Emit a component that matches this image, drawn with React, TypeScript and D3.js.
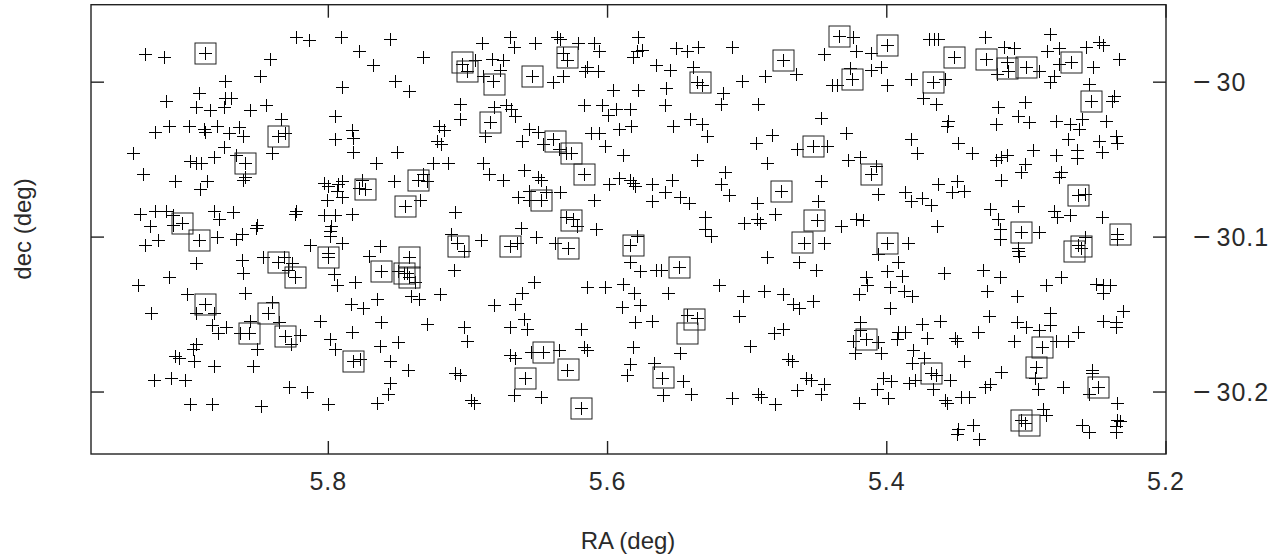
import React from "react";
import * as d3 from "d3";

// RA / dec of all detected sources (plus markers)
const sourcesWest: [number, number][] = [
[5.823,-29.971],[5.814,-29.973],[5.791,-29.971],[5.756,-29.972],[5.931,-29.982],[5.918,-29.984],[5.888,-29.981],[5.842,-29.985],[5.778,-29.980],[5.732,-29.984],[5.768,-29.989],[5.849,-29.996],[5.874,-29.999],[5.790,-30.003],[5.752,-29.999],[5.742,-30.006],[5.893,-30.007],[5.916,-30.012],[5.874,-30.010],[5.870,-30.010],[5.895,-30.016],[5.885,-30.018],[5.875,-30.016],[5.856,-30.018],[5.845,-30.015],[5.834,-30.024],[5.836,-30.035],[5.831,-30.033],[5.795,-30.022],[5.783,-30.031],[5.782,-30.036],[5.795,-30.037],[5.782,-30.045],[5.924,-30.032],[5.914,-30.028],[5.900,-30.028],[5.889,-30.030],[5.888,-30.032],[5.880,-30.028],[5.871,-30.033],[5.864,-30.029],[5.861,-30.035],[5.940,-30.046],[5.875,-30.042],[5.882,-30.048],[5.866,-30.047],[5.899,-30.051],[5.895,-30.052],[5.891,-30.052],[5.860,-30.052],[5.860,-30.061],[5.861,-30.063],[5.840,-30.046],[5.751,-30.045],[5.766,-30.052],[5.721,-30.028],[5.717,-30.031],[5.722,-30.038],[5.719,-30.040],[5.725,-30.052],[5.714,-30.052],[5.933,-30.059],[5.910,-30.064],[5.892,-30.069],[5.887,-30.064],[5.803,-30.065],[5.800,-30.067],[5.793,-30.066],[5.790,-30.064],[5.794,-30.070],[5.776,-30.063],[5.774,-30.069],[5.778,-30.068],[5.753,-30.064],[5.736,-30.063],[5.732,-30.059],[5.729,-30.064],[5.801,-30.076],[5.790,-30.074],[5.745,-30.080],[5.734,-30.076],[5.935,-30.085],[5.924,-30.083],[5.916,-30.083],[5.911,-30.086],[5.905,-30.091],[5.928,-30.093],[5.911,-30.092],[5.882,-30.083],[5.878,-30.088],[5.868,-30.084],[5.823,-30.083],[5.824,-30.085],[5.803,-30.086],[5.795,-30.086],[5.783,-30.085],[5.798,-30.093],[5.799,-30.096],[5.851,-30.092],[5.852,-30.094],[5.862,-30.098],[5.866,-30.101],[5.931,-30.105],[5.922,-30.102],[5.893,-30.102],[5.880,-30.100],[5.813,-30.105],[5.799,-30.099],[5.790,-30.104],[5.763,-30.106],[5.895,-30.117],[5.862,-30.115],[5.861,-30.123],[5.847,-30.113],[5.836,-30.116],[5.832,-30.113],[5.826,-30.117],[5.829,-30.121],[5.824,-30.126],[5.800,-30.113],[5.800,-30.110],[5.771,-30.112],[5.762,-30.122],[5.746,-30.123],[5.742,-30.113],[5.742,-30.126],[5.750,-30.122],[5.744,-30.123],[5.738,-30.129],[5.796,-30.124],[5.794,-30.131],[5.781,-30.129],[5.914,-30.126],[5.936,-30.131],[5.860,-30.136],[5.901,-30.137],[5.888,-30.143],[5.895,-30.149],[5.882,-30.149],[5.927,-30.149],[5.741,-30.138],[5.735,-30.140],[5.720,-30.137],[5.765,-30.140],[5.784,-30.143],[5.775,-30.146],[5.843,-30.149],[5.840,-30.142],[5.806,-30.154],[5.762,-30.155],[5.729,-30.156],[5.783,-30.161],[5.883,-30.157],[5.873,-30.158],[5.879,-30.162],[5.857,-30.162],[5.863,-30.162],[5.856,-30.154],[5.831,-30.164],[5.835,-30.155],[5.820,-30.163],[5.827,-30.169],[5.895,-30.169],[5.897,-30.172],[5.851,-30.172],[5.799,-30.166],[5.795,-30.172],[5.782,-30.180],[5.777,-30.179],[5.763,-30.170],[5.750,-30.168],[5.756,-30.180],[5.743,-30.186],[5.910,-30.177],[5.907,-30.178],[5.896,-30.180],[5.882,-30.183],[5.854,-30.183],[5.925,-30.192],[5.913,-30.191],[5.903,-30.192],[5.828,-30.197],[5.815,-30.200],[5.756,-30.194],[5.757,-30.201],[5.899,-30.208],[5.883,-30.208],[5.848,-30.209],[5.800,-30.208],[5.765,-30.207]
];

const sourcesMiddle: [number, number][] = [
[5.690,-29.975],[5.670,-29.971],[5.667,-29.977],[5.652,-29.975],[5.636,-29.971],[5.634,-29.972],[5.621,-29.975],[5.610,-29.975],[5.606,-29.980],[5.704,-29.988],[5.701,-29.993],[5.695,-29.986],[5.632,-29.981],[5.629,-29.986],[5.683,-29.985],[5.675,-29.986],[5.677,-29.992],[5.689,-29.996],[5.682,-29.999],[5.654,-29.996],[5.639,-30.000],[5.632,-29.996],[5.615,-29.990],[5.616,-29.993],[5.607,-29.993],[5.578,-29.971],[5.579,-29.980],[5.582,-29.984],[5.575,-29.979],[5.551,-29.978],[5.543,-29.980],[5.535,-29.977],[5.511,-29.977],[5.474,-29.986],[5.565,-29.989],[5.555,-29.992],[5.539,-29.990],[5.536,-30.000],[5.532,-30.002],[5.504,-29.999],[5.487,-29.996],[5.465,-29.995],[5.596,-30.005],[5.578,-30.005],[5.558,-30.004],[5.517,-30.007],[5.519,-30.014],[5.492,-30.014],[5.706,-30.014],[5.706,-30.024],[5.684,-30.026],[5.681,-30.016],[5.673,-30.015],[5.669,-30.017],[5.666,-30.022],[5.617,-30.015],[5.604,-30.015],[5.600,-30.021],[5.594,-30.017],[5.584,-30.017],[5.592,-30.030],[5.583,-30.028],[5.559,-30.015],[5.553,-30.028],[5.541,-30.024],[5.532,-30.027],[5.529,-30.035],[5.688,-30.035],[5.656,-30.030],[5.650,-30.032],[5.661,-30.038],[5.639,-30.037],[5.646,-30.040],[5.635,-30.043],[5.630,-30.046],[5.626,-30.046],[5.617,-30.059],[5.612,-30.033],[5.606,-30.033],[5.602,-30.041],[5.589,-30.047],[5.494,-30.039],[5.482,-30.034],[5.464,-30.043],[5.536,-30.050],[5.486,-30.052],[5.689,-30.052],[5.685,-30.059],[5.675,-30.063],[5.660,-30.057],[5.650,-30.061],[5.648,-30.063],[5.599,-30.066],[5.592,-30.062],[5.584,-30.063],[5.582,-30.065],[5.580,-30.067],[5.568,-30.066],[5.554,-30.063],[5.559,-30.071],[5.568,-30.077],[5.548,-30.074],[5.542,-30.078],[5.516,-30.058],[5.519,-30.066],[5.513,-30.073],[5.476,-30.070],[5.610,-30.076],[5.664,-30.074],[5.656,-30.076],[5.648,-30.076],[5.644,-30.071],[5.634,-30.071],[5.656,-30.070],[5.709,-30.084],[5.630,-30.087],[5.625,-30.088],[5.622,-30.093],[5.662,-30.094],[5.608,-30.095],[5.493,-30.078],[5.493,-30.088],[5.491,-30.091],[5.480,-30.085],[5.502,-30.091],[5.530,-30.087],[5.530,-30.095],[5.526,-30.099],[5.691,-30.102],[5.670,-30.106],[5.665,-30.104],[5.651,-30.100],[5.638,-30.104],[5.628,-30.107],[5.712,-30.098],[5.708,-30.104],[5.703,-30.109],[5.584,-30.105],[5.579,-30.099],[5.584,-30.116],[5.577,-30.122],[5.565,-30.121],[5.562,-30.121],[5.549,-30.119],[5.486,-30.113],[5.463,-30.116],[5.459,-30.104],[5.710,-30.121],[5.653,-30.129],[5.661,-30.136],[5.666,-30.143],[5.681,-30.144],[5.615,-30.132],[5.602,-30.132],[5.589,-30.130],[5.581,-30.136],[5.557,-30.136],[5.590,-30.145],[5.577,-30.144],[5.580,-30.155],[5.568,-30.154],[5.520,-30.131],[5.503,-30.138],[5.488,-30.135],[5.474,-30.137],[5.467,-30.143],[5.463,-30.146],[5.506,-30.151],[5.543,-30.150],[5.536,-30.152],[5.548,-30.175],[5.703,-30.158],[5.701,-30.167],[5.670,-30.158],[5.660,-30.153],[5.658,-30.159],[5.619,-30.159],[5.617,-30.171],[5.615,-30.173],[5.582,-30.171],[5.584,-30.182],[5.586,-30.189],[5.567,-30.181],[5.561,-30.191],[5.546,-30.193],[5.540,-30.201],[5.560,-30.202],[5.646,-30.174],[5.670,-30.176],[5.666,-30.178],[5.655,-30.174],[5.635,-30.173],[5.659,-30.191],[5.629,-30.186],[5.709,-30.188],[5.706,-30.189],[5.698,-30.205],[5.696,-30.207],[5.667,-30.202],[5.648,-30.203],[5.619,-30.210],[5.498,-30.170],[5.481,-30.162],[5.474,-30.159],[5.471,-30.179],[5.468,-30.180],[5.458,-30.191],[5.464,-30.199],[5.492,-30.201],[5.490,-30.203],[5.480,-30.208],[5.511,-30.204]
];

const sourcesEast: [number, number][] = [
[5.434,-29.970],[5.424,-29.971],[5.400,-29.976],[5.445,-29.982],[5.422,-29.980],[5.411,-29.981],[5.425,-29.998],[5.426,-29.991],[5.439,-30.002],[5.436,-30.002],[5.411,-29.992],[5.404,-29.990],[5.400,-30.002],[5.383,-29.998],[5.370,-29.972],[5.366,-29.972],[5.363,-29.972],[5.352,-29.984],[5.367,-30.000],[5.358,-29.998],[5.374,-30.010],[5.365,-30.014],[5.330,-29.971],[5.329,-29.985],[5.316,-29.977],[5.309,-29.978],[5.314,-29.987],[5.313,-29.993],[5.300,-29.990],[5.321,-29.995],[5.291,-29.993],[5.283,-29.969],[5.285,-29.980],[5.277,-29.978],[5.268,-29.987],[5.277,-29.988],[5.280,-29.996],[5.283,-30.000],[5.257,-29.977],[5.248,-29.974],[5.245,-29.976],[5.252,-29.990],[5.234,-29.985],[5.255,-30.001],[5.254,-30.012],[5.237,-30.009],[5.239,-30.012],[5.320,-30.016],[5.301,-30.013],[5.322,-30.027],[5.306,-30.022],[5.298,-30.026],[5.279,-30.025],[5.269,-30.027],[5.260,-30.024],[5.262,-30.030],[5.243,-30.025],[5.447,-30.023],[5.429,-30.033],[5.453,-30.041],[5.443,-30.041],[5.383,-30.037],[5.378,-30.046],[5.356,-30.025],[5.357,-30.028],[5.349,-30.039],[5.339,-30.046],[5.322,-30.050],[5.318,-30.048],[5.314,-30.047],[5.295,-30.044],[5.301,-30.053],[5.304,-30.058],[5.279,-30.047],[5.264,-30.044],[5.264,-30.049],[5.270,-30.037],[5.248,-30.038],[5.236,-30.035],[5.235,-30.039],[5.246,-30.045],[5.275,-30.058],[5.277,-30.061],[5.428,-30.050],[5.419,-30.048],[5.411,-30.059],[5.408,-30.054],[5.447,-30.064],[5.318,-30.063],[5.406,-30.072],[5.387,-30.071],[5.383,-30.077],[5.375,-30.075],[5.368,-30.079],[5.363,-30.066],[5.353,-30.071],[5.350,-30.064],[5.345,-30.070],[5.263,-30.073],[5.258,-30.072],[5.449,-30.077],[5.450,-30.089],[5.433,-30.093],[5.422,-30.088],[5.417,-30.089],[5.326,-30.082],[5.306,-30.080],[5.320,-30.088],[5.319,-30.095],[5.319,-30.101],[5.304,-30.097],[5.291,-30.097],[5.306,-30.107],[5.306,-30.109],[5.305,-30.112],[5.280,-30.083],[5.278,-30.087],[5.269,-30.086],[5.246,-30.087],[5.235,-30.101],[5.235,-30.098],[5.263,-30.105],[5.261,-30.107],[5.258,-30.100],[5.364,-30.093],[5.400,-30.104],[5.385,-30.104],[5.406,-30.111],[5.392,-30.116],[5.445,-30.104],[5.451,-30.121],[5.453,-30.141],[5.400,-30.122],[5.415,-30.126],[5.414,-30.131],[5.389,-30.125],[5.398,-30.132],[5.388,-30.135],[5.382,-30.138],[5.398,-30.146],[5.420,-30.137],[5.359,-30.123],[5.331,-30.121],[5.319,-30.126],[5.328,-30.135],[5.307,-30.138],[5.286,-30.131],[5.275,-30.126],[5.250,-30.130],[5.245,-30.131],[5.240,-30.131],[5.245,-30.136],[5.327,-30.151],[5.335,-30.161],[5.307,-30.155],[5.300,-30.158],[5.291,-30.160],[5.283,-30.149],[5.283,-30.157],[5.309,-30.167],[5.279,-30.167],[5.270,-30.167],[5.263,-30.161],[5.289,-30.171],[5.293,-30.184],[5.245,-30.154],[5.236,-30.155],[5.236,-30.158],[5.231,-30.148],[5.419,-30.155],[5.419,-30.160],[5.415,-30.166],[5.424,-30.167],[5.423,-30.175],[5.406,-30.168],[5.404,-30.175],[5.392,-30.161],[5.387,-30.161],[5.393,-30.166],[5.375,-30.156],[5.362,-30.154],[5.371,-30.165],[5.351,-30.165],[5.350,-30.167],[5.381,-30.173],[5.373,-30.178],[5.382,-30.181],[5.368,-30.188],[5.365,-30.189],[5.380,-30.192],[5.384,-30.194],[5.355,-30.192],[5.367,-30.198],[5.345,-30.180],[5.318,-30.187],[5.326,-30.195],[5.330,-30.197],[5.294,-30.191],[5.292,-30.198],[5.274,-30.197],[5.249,-30.197],[5.253,-30.186],[5.253,-30.188],[5.255,-30.201],[5.403,-30.191],[5.397,-30.193],[5.407,-30.198],[5.399,-30.204],[5.420,-30.207],[5.454,-30.192],[5.445,-30.195],[5.447,-30.201],[5.358,-30.205],[5.357,-30.207],[5.347,-30.203],[5.341,-30.203],[5.235,-30.207],[5.235,-30.218],[5.233,-30.219],[5.236,-30.222],[5.236,-30.226],[5.304,-30.218],[5.301,-30.220],[5.288,-30.211],[5.286,-30.215],[5.349,-30.224],[5.350,-30.227],[5.338,-30.221],[5.334,-30.230],[5.260,-30.221],[5.255,-30.226]
];

// Sources that are marked with a box
const boxed: [number, number][] = [
[5.888,-29.981],[5.836,-30.035],[5.860,-30.052],[5.774,-30.069],[5.736,-30.063],[5.745,-30.080],[5.905,-30.091],[5.893,-30.102],[5.836,-30.116],[5.824,-30.126],[5.800,-30.113],[5.762,-30.122],[5.746,-30.123],[5.742,-30.113],[5.742,-30.126],[5.888,-30.143],[5.843,-30.149],[5.857,-30.162],[5.831,-30.164],[5.782,-30.180],
[5.704,-29.987],[5.701,-29.993],[5.629,-29.984],[5.681,-30.001],[5.654,-29.996],[5.474,-29.986],[5.534,-30.000],[5.684,-30.026],[5.638,-30.038],[5.626,-30.046],[5.617,-30.059],[5.476,-30.070],[5.648,-30.076],[5.626,-30.089],[5.670,-30.106],[5.628,-30.107],[5.707,-30.106],[5.582,-30.105],[5.549,-30.119],[5.461,-30.103],[5.538,-30.153],[5.543,-30.162],[5.560,-30.190],[5.646,-30.174],[5.659,-30.191],[5.628,-30.185],[5.619,-30.210],
[5.434,-29.970],[5.400,-29.976],[5.425,-29.998],[5.352,-29.984],[5.367,-30.000],[5.329,-29.985],[5.314,-29.991],[5.300,-29.990],[5.268,-29.987],[5.254,-30.012],[5.453,-30.041],[5.411,-30.059],[5.263,-30.073],[5.452,-30.089],[5.304,-30.097],[5.233,-30.098],[5.261,-30.106],[5.266,-30.109],[5.400,-30.104],[5.289,-30.171],[5.293,-30.184],[5.415,-30.166],[5.368,-30.188],[5.249,-30.197],[5.304,-30.218],[5.298,-30.221]
];

const raTicks = [5.8, 5.6, 5.4, 5.2];
const raTickLabels = ["5.8", "5.6", "5.4", "5.2"];
const decTicks = [-30, -30.1, -30.2];
const decTickLabels = ["30", "30.1", "30.2"];
const minusSign = "\u2212";
const xTitle = "RA (deg)";
const yTitle = "dec (deg)";

export default function App() {
  const W = 1287, H = 557;
  const x = d3.scaleLinear().domain([5.97, 5.2]).range([91, 1166]);
  const y = d3.scaleLinear().domain([-29.95, -30.24]).range([4.7, 454]);
  const [x0, x1] = x.range();
  const [y0, y1] = y.range();
  const tl = 13;
  const arm = 6.5;
  const half = 10.5;
  const all = [...sourcesWest, ...sourcesMiddle, ...sourcesEast];
  const plusPath = all
    .map(([ra, de]) => {
      const px = Math.round(x(ra)) + 0.5;
      const py = Math.round(y(de)) + 0.5;
      return `M${px - arm},${py}H${px + arm}M${px},${py - arm}V${py + arm}`;
    })
    .join("");
  const font = "'Liberation Sans', Arial, Helvetica, sans-serif";
  const txt = "#2a2a2a";
  return (
    <svg
      width={W}
      height={H}
      style={{ position: "absolute", left: 0, top: 0, background: "#fff" }}
    >
      <rect x={x0} y={y0} width={x1 - x0} height={y1 - y0} fill="none" stroke="#222" strokeWidth={1.4} />
      {raTicks.map((t) => (
        <g key={"xt" + t} stroke="#222" strokeWidth={1.4}>
          <line x1={x(t)} x2={x(t)} y1={y1} y2={y1 - tl} />
          <line x1={x(t)} x2={x(t)} y1={y0} y2={y0 + tl} />
        </g>
      ))}
      {decTicks.map((t) => (
        <g key={"yt" + t} stroke="#222" strokeWidth={1.4}>
          <line x1={x0} x2={x0 + tl} y1={y(t)} y2={y(t)} />
          <line x1={x1} x2={x1 - tl} y1={y(t)} y2={y(t)} />
        </g>
      ))}
      <path d={plusPath} stroke="#000" strokeWidth={1} fill="none" shapeRendering="crispEdges" />
      {boxed.map(([ra, de], i) => (
        <rect
          key={"b" + i}
          x={Math.round(x(ra)) + 0.5 - half}
          y={Math.round(y(de)) + 0.5 - half}
          width={half * 2}
          height={half * 2}
          fill="none"
          stroke="#222"
          strokeWidth={1}
        />
      ))}
      {raTicks.map((t, i) => (
        <text key={"xl" + t} x={x(t)} y={490} textAnchor="middle" fontFamily={font} fontSize={25} letterSpacing={1} fill={txt}>
          {raTickLabels[i]}
        </text>
      ))}
      {decTicks.map((t, i) => (
        <text key={"yl" + t} x={1193} y={y(t) + 9} textAnchor="start" fontFamily={font} fontSize={25} letterSpacing={1} fill={txt}>
          <tspan fontSize={30} dy={1}>{minusSign}</tspan>
          <tspan dx={5} dy={-1}>{decTickLabels[i]}</tspan>
        </text>
      ))}
      <text x={628} y={549} textAnchor="middle" fontFamily={font} fontSize={24} fill={txt}>
        {xTitle}
      </text>
      <text transform={`translate(31,229) rotate(-90)`} textAnchor="middle" fontFamily={font} fontSize={24} fill={txt}>
        {yTitle}
      </text>
    </svg>
  );
}
